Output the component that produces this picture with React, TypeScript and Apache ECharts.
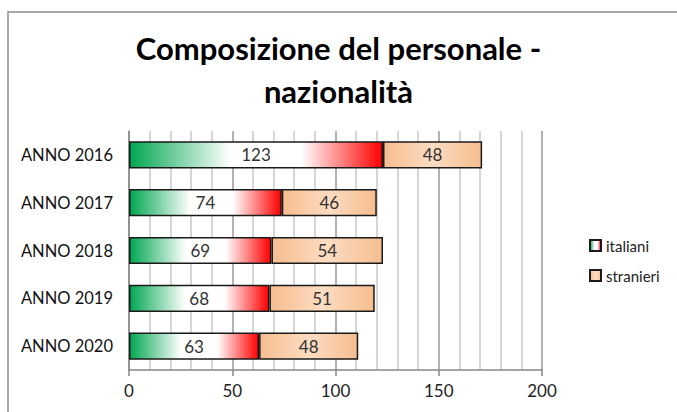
import React, { useEffect, useRef } from "react";
import * as echarts from "echarts";

const categories = ["ANNO 2016", "ANNO 2017", "ANNO 2018", "ANNO 2019", "ANNO 2020"];
const italiani = [123, 74, 69, 68, 63];
const stranieri = [48, 46, 54, 51, 48];
const seriesNames = ["italiani", "stranieri"];
const titleText = "Composizione del personale -\nnazionalità";

export default function App() {
  const ref = useRef<HTMLDivElement>(null);
  useEffect(() => {
    if (!ref.current) return;
    const chart = echarts.init(ref.current, undefined, { renderer: "svg" });
    const font = "Lato, 'Open Sans', sans-serif";
    const itGrad = new echarts.graphic.LinearGradient(0, 0, 1, 0, [
      { offset: 0, color: "#00a650" },
      { offset: 0.4, color: "#ffffff" },
      { offset: 0.68, color: "#ffffff" },
      { offset: 1, color: "#ff0000" },
    ]);
    const stGrad = new echarts.graphic.LinearGradient(0, 0, 1, 0, [
      { offset: 0, color: "#f6bd8f" },
      { offset: 0.5, color: "#fcdcc2" },
      { offset: 1, color: "#f6bd8f" },
    ]);
    chart.setOption({
      animation: false,
      backgroundColor: "#ffffff",
      textStyle: { fontFamily: font },
      graphic: [
        {
          type: "rect",
          shape: { x: 8, y: 12, width: 720, height: 430 },
          style: { fill: "none", stroke: "#8c8c8c", lineWidth: 1.5 },
          silent: true,
        },
      ],
      title: {
        text: titleText,
        left: "center",
        top: 21,
        textStyle: {
          fontFamily: font,
          fontSize: 31,
          fontWeight: "bold",
          color: "#000",
          lineHeight: 43,
        },
      },
      legend: {
        orient: "vertical",
        left: 584,
        top: 233,
        itemWidth: 11,
        itemHeight: 11,
        itemGap: 15,
        icon: "rect",
        data: seriesNames,
        textStyle: { fontFamily: font, fontSize: 15, color: "#222" },
      },
      grid: { left: 129, right: 135, top: 131, bottom: 42 },
      xAxis: {
        type: "value",
        min: 0,
        max: 200,
        interval: 50,
        axisLine: { show: true, lineStyle: { color: "#888", width: 1.5 } },
        axisTick: { show: true, length: 6, lineStyle: { color: "#888", width: 1.5 } },
        axisLabel: { fontFamily: font, fontSize: 17, color: "#222", margin: 12 },
        splitLine: { show: true, lineStyle: { color: "#999", width: 1.5 } },
        minorTick: { show: false, splitNumber: 5 },
        minorSplitLine: { show: true, lineStyle: { color: "#c8c8c8", width: 1.5 } },
      },
      yAxis: {
        type: "category",
        data: categories,
        inverse: true,
        axisLine: { show: true, lineStyle: { color: "#888", width: 1.5 } },
        axisTick: { show: false },
        axisLabel: { fontFamily: font, fontSize: 16.5, color: "#111", margin: 16 },
      },
      series: [
        {
          name: seriesNames[0],
          type: "bar",
          stack: "tot",
          data: italiani,
          barCategoryGap: "43%",
          itemStyle: { color: itGrad, borderColor: "#1a1a1a", borderWidth: 1.5 },
          label: { show: true, position: "inside", fontFamily: font, fontSize: 17, color: "#333" },
        },
        {
          name: seriesNames[1],
          type: "bar",
          stack: "tot",
          data: stranieri,
          barCategoryGap: "43%",
          itemStyle: { color: stGrad, borderColor: "#1a1a1a", borderWidth: 1.5 },
          label: { show: true, position: "inside", fontFamily: font, fontSize: 17, color: "#333" },
        },
      ],
    });
    return () => chart.dispose();
  }, []);
  return (
    <div
      ref={ref}
      style={{ position: "fixed", left: 0, top: 0, width: 677, height: 412 }}
    />
  );
}
